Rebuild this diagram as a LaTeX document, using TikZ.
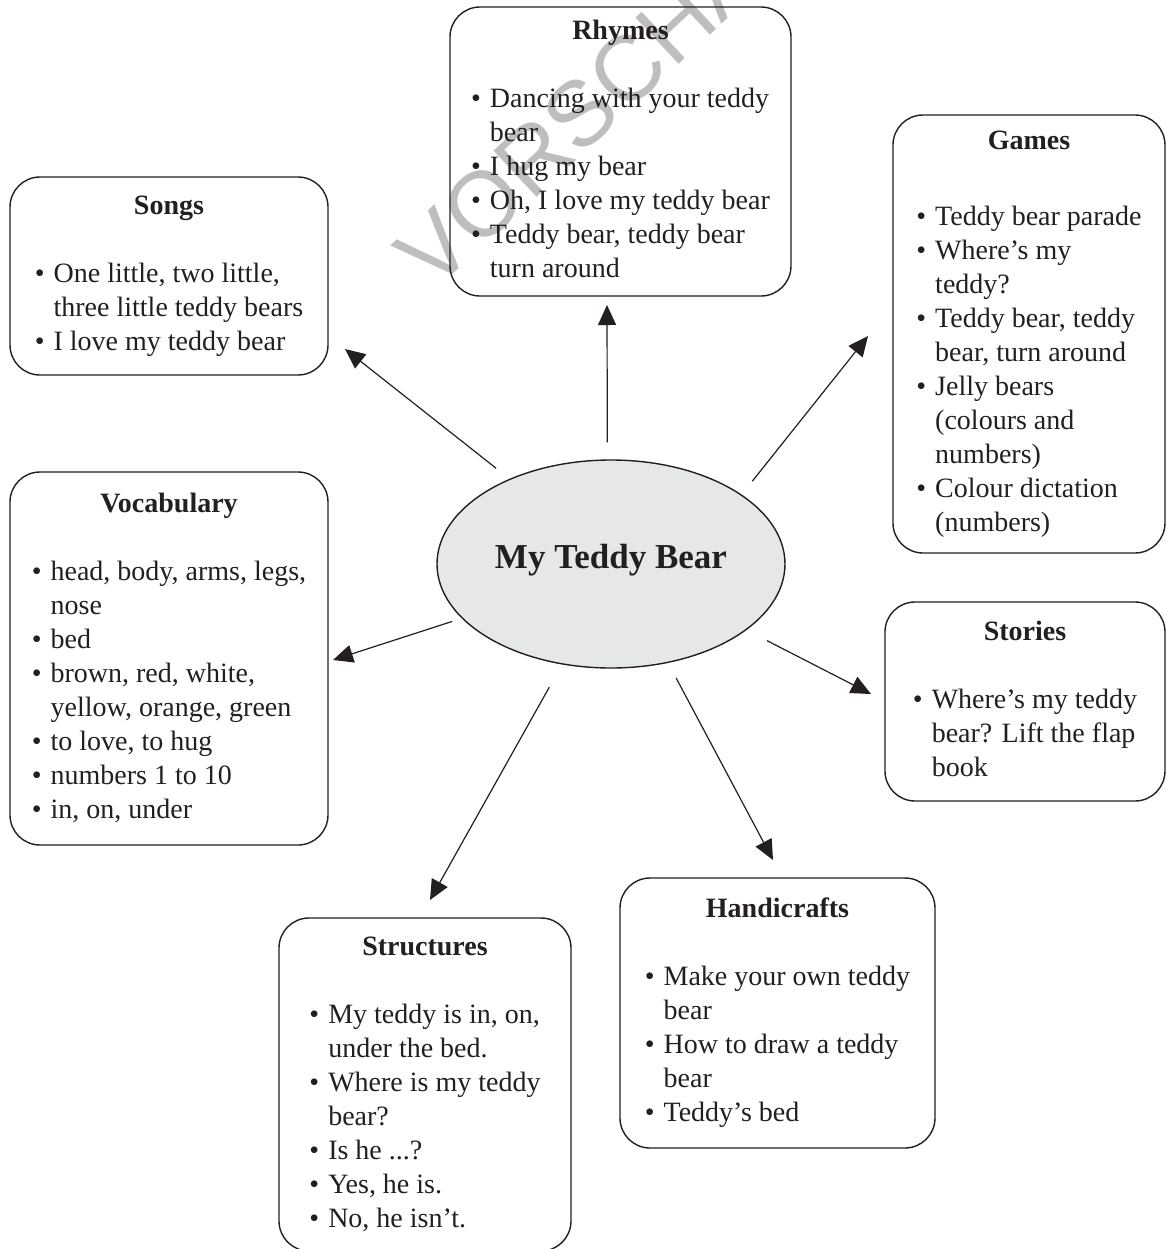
\documentclass[tikz,border=0pt]{standalone}
\usepackage{fontspec}
\setmainfont{Liberation Serif}
\newfontfamily\wmfont{Liberation Sans}
\usepackage{xcolor}
\usetikzlibrary{shapes.geometric, arrows.meta}
\definecolor{inkblack}{RGB}{35,31,32}
\definecolor{hubgray}{RGB}{230,231,232}
\definecolor{wmgray}{RGB}{190,190,190}

\newcommand{\topiclist}[3][17pt]{%
  \begin{tabular}{@{}l@{\hspace{4.5pt}}l@{}}
    \multicolumn{2}{c}{\textbf{#2}}\\[#1]
    #3
  \end{tabular}}

\begin{document}
\begin{tikzpicture}[x=0.5pt, y=-0.5pt,
  every node/.style={text=inkblack},
  topic/.style={draw=inkblack, rounded corners=15pt, line width=0.7pt, inner sep=0pt, font=\fontsize{14}{17}\selectfont},
  hub/.style={ellipse, draw=inkblack, fill=hubgray, line width=0.7pt, inner sep=0pt, minimum width=174pt, minimum height=104pt, font=\fontsize{17.5}{20}\selectfont\bfseries},
  arr/.style={-{Triangle[length=10pt,width=9pt]}, draw=inkblack, line width=0.6pt, shorten <=8.5pt}]

\useasboundingbox (0,0) rectangle (1166,1249);

% Watermark
\node[rotate=43, text=wmgray, font=\fontsize{46}{46}\selectfont\wmfont] (wm) at (603,92) {VORSCHAU};

% Centre
\node[hub] (hub) at (611,564) {\raisebox{-2pt}[0pt][0pt]{My Teddy Bear}};

% Topic boxes
\node[topic, minimum width=159pt, minimum height=99pt] (songs) at (169,276) {\topiclist{Songs}{%
  \textbullet & One little, two little,\\
  & three little teddy bears\\
  \textbullet & I love my teddy bear}};

\node[topic, minimum width=170.5pt, minimum height=144.5pt] (rhymes) at (620.5,151.5) {\topiclist{Rhymes}{%
  \textbullet & Dancing with your teddy\\
  & bear\\
  \textbullet & I hug my bear\\
  \textbullet & Oh, I love my teddy bear\\
  \textbullet & Teddy bear, teddy bear\\
  & turn around}};

\node[topic, minimum width=136pt, minimum height=219pt] (games) at (1029,334) {\topiclist[21pt]{Games}{%
  \textbullet & Teddy bear parade\\
  \textbullet & Where's my\\
  & teddy?\\
  \textbullet & Teddy bear, teddy\\
  & bear, turn around\\
  \textbullet & Jelly bears\\
  & (colours and\\
  & numbers)\\
  \textbullet & Colour dictation\\
  & (numbers)}};

\node[topic, minimum width=159pt, minimum height=186.5pt] (vocab) at (169,658.5) {\topiclist{Vocabulary}{%
  \textbullet & head, body, arms, legs,\\
  & nose\\
  \textbullet & bed\\
  \textbullet & brown, red, white,\\
  & yellow, orange, green\\
  \textbullet & to love, to hug\\
  \textbullet & numbers 1 to 10\\
  \textbullet & in, on, under}};

\node[topic, minimum width=140pt, minimum height=99.5pt] (stories) at (1025,701.5) {\topiclist{Stories}{%
  \textbullet & Where's my teddy\\
  & bear? Lift the flap\\
  & book}};

\node[topic, minimum width=157.5pt, minimum height=135pt] (crafts) at (777.5,1013) {\topiclist{Handicrafts}{%
  \textbullet & Make your own teddy\\
  & bear\\
  \textbullet & How to draw a teddy\\
  & bear\\
  \textbullet & Teddy's bed}};

\node[topic, minimum width=146pt, minimum height=166.5pt] (structs) at (425,1084.5) {\topiclist{Structures}{%
  \textbullet & My teddy is in, on,\\
  & under the bed.\\
  \textbullet & Where is my teddy\\
  & bear?\\
  \textbullet & Is he ...?\\
  \textbullet & Yes, he is.\\
  \textbullet & No, he isn't.}};

% Arrow ends
\coordinate (songs-tip) at (345,349);
\coordinate (rhymes-tip) at (607,305);
\coordinate (games-tip) at (868,336);
\coordinate (vocab-tip) at (333,660);
\coordinate (stories-tip) at (871,694);
\coordinate (crafts-tip) at (773,860);
\coordinate (structs-tip) at (430,900);

% Arrows
\draw[arr] (hub.140) -- (songs-tip);
\draw[arr] (hub.92) -- (rhymes-tip);
\draw[arr] (hub.28) -- (games-tip);
\draw[arr, shorten <=5pt] (hub.200) -- (vocab-tip);
\draw[arr, shorten <=11.5pt] (hub.334) -- (stories-tip);
\draw[arr] (hub.300) -- (crafts-tip);
\draw[arr, shorten <=13pt] (hub.244) -- (structs-tip);

\end{tikzpicture}
\end{document}
